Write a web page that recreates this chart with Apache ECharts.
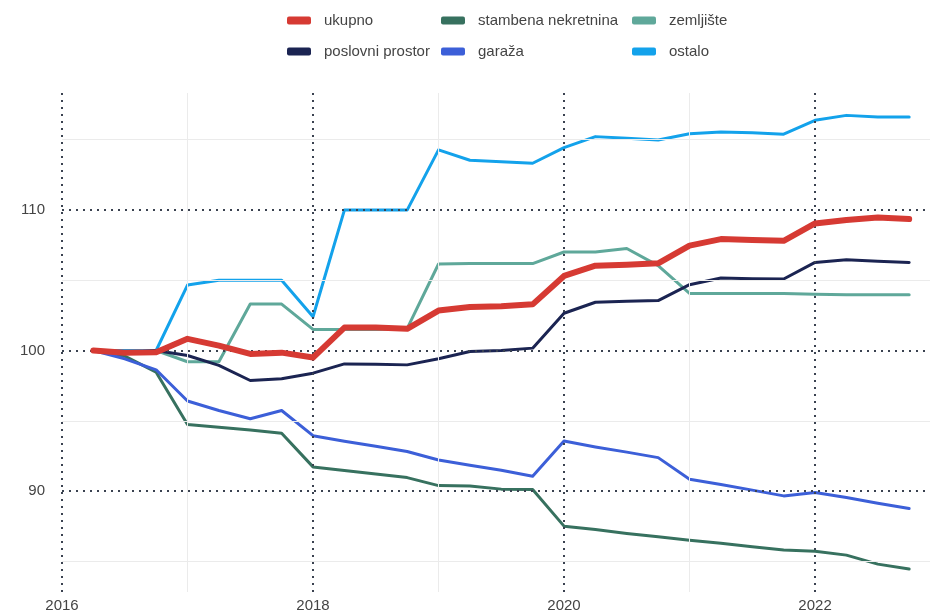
<!DOCTYPE html>
<html>
<head>
<meta charset="utf-8">
<script src="https://cdn.jsdelivr.net/npm/echarts@6/dist/echarts.min.js"></script>
<style>
  html, body { margin: 0; padding: 0; background: #ffffff; }
  #chart { width: 930px; height: 613px; }
</style>
</head>
<body>
<div id="chart"></div>
<script>
// Quarterly index values (2016 Q2 = 100)
const quarters = [
  '2016-Q2','2016-Q3','2016-Q4',
  '2017-Q1','2017-Q2','2017-Q3','2017-Q4',
  '2018-Q1','2018-Q2','2018-Q3','2018-Q4',
  '2019-Q1','2019-Q2','2019-Q3','2019-Q4',
  '2020-Q1','2020-Q2','2020-Q3','2020-Q4',
  '2021-Q1','2021-Q2','2021-Q3','2021-Q4',
  '2022-Q1','2022-Q2','2022-Q3','2022-Q4'
];

const ukupno = [100, 99.85, 99.88, 100.83, 100.35, 99.76, 99.85, 99.5, 101.63, 101.63, 101.54, 102.84, 103.1, 103.15, 103.28, 105.3,
  106.03, 106.1, 106.2, 107.45, 107.92, 107.85, 107.8, 109.03, 109.27, 109.45, 109.34];
const poslovniProstor = [100, 99.85, 100, 99.65, 98.94, 97.87, 97.99, 98.39, 99.05, 99.03, 98.98, 99.41, 99.93, 100.0, 100.17, 102.65,
  103.43, 103.5, 103.55, 104.68, 105.15, 105.1, 105.08, 106.26, 106.45, 106.35, 106.26];
const stambenaNekretnina = [100, 99.6, 98.46, 94.75, 94.55, 94.35, 94.12, 91.73, 91.48, 91.22, 90.97, 90.4, 90.38, 90.15, 90.12, 87.52,
  87.28, 87.0, 86.76, 86.52, 86.3, 86.05, 85.82, 85.74, 85.46, 84.82, 84.47];
const garaza = [100, 99.41, 98.63, 96.41, 95.74, 95.15, 95.74, 93.95, 93.55, 93.2, 92.82, 92.22, 91.84, 91.49, 91.06, 93.57,
  93.15, 92.78, 92.39, 90.85, 90.48, 90.08, 89.67, 89.91, 89.55, 89.15, 88.77];
const zemljiste = [100, 100, 100, 99.2, 99.2, 103.3, 103.3, 101.5, 101.5, 101.5, 101.55, 106.15, 106.18, 106.18, 106.18, 107.0,
  107.0, 107.25, 106.03, 104.06, 104.06, 104.06, 104.05, 103.99, 103.97, 103.97, 103.97];
const ostalo = [100, 100, 100, 104.65, 105.0, 105.0, 105.0, 102.4, 109.98, 109.98, 109.98, 114.26, 113.52, 113.42, 113.31, 114.42,
  115.2, 115.08, 114.96, 115.41, 115.53, 115.48, 115.37, 116.36, 116.71, 116.6, 116.6];

const xTickLabels = [2016, 2018, 2020, 2022];
const yTickLabels = [90, 100, 110];
const xMinorLines = [2017, 2019, 2021];
const yMinorLines = [85, 95, 105, 115];

// '2016-Q2' -> 2016.25 (start of the quarter as a decimal year)
function quarterToYear(q) {
  const [y, n] = q.split('-Q');
  return Number(y) + (Number(n) - 1) / 4;
}
const xs = quarters.map(quarterToYear);
const pairs = vals => vals.map((v, i) => [xs[i], v]);

const FONT = 'Liberation Sans, Arial, sans-serif';
const TEXT = '#444444';

const seriesDefs = [
  { name: 'stambena nekretnina', data: stambenaNekretnina, color: '#37715f', width: 3, z: 3 },
  { name: 'garaža', data: garaza, color: '#3c5fd8', width: 3, z: 3 },
  { name: 'zemljište', data: zemljiste, color: '#5fa89a', width: 3, z: 3 },
  { name: 'ostalo', data: ostalo, color: '#13a2eb', width: 3, z: 3 },
  { name: 'poslovni prostor', data: poslovniProstor, color: '#1b2452', width: 3, z: 4 },
  { name: 'ukupno', data: ukupno, color: '#d63a33', width: 6, z: 5 }
];

const dotted = { color: '#3a4250', width: 2, type: [2, 5] };
const thin = { color: '#ebebeb', width: 1, type: 'solid' };

// Gridlines: light solid minors under dotted majors
const gridSeries = {
  type: 'line',
  data: [],
  silent: true,
  z: 1,
  markLine: {
    silent: true,
    symbol: 'none',
    label: { show: false },
    animation: false,
    data: [
      ...xMinorLines.map(v => ({ xAxis: v, lineStyle: thin })),
      ...yMinorLines.map(v => ({ yAxis: v, lineStyle: thin })),
      ...xTickLabels.map(v => ({ xAxis: v, lineStyle: dotted })),
      ...yTickLabels.map(v => ({ yAxis: v, lineStyle: dotted }))
    ]
  }
};

const legendBase = {
  orient: 'vertical',
  top: 13,
  padding: 0,
  itemWidth: 24,
  itemHeight: 8,
  itemGap: 16,
  icon: 'roundRect',
  textStyle: { fontFamily: FONT, fontSize: 15, color: TEXT, padding: [0, 0, 0, 8] }
};

const chart = echarts.init(document.getElementById('chart'), null, { renderer: 'canvas' });
chart.setOption({
  animation: false,
  backgroundColor: '#ffffff',
  legend: [
    Object.assign({}, legendBase, { left: 287, data: ['ukupno', 'poslovni prostor'] }),
    Object.assign({}, legendBase, { left: 441, data: ['stambena nekretnina', 'garaža'] }),
    Object.assign({}, legendBase, { left: 632, data: ['zemljište', 'ostalo'] })
  ],
  grid: { left: 62, right: 0, top: 93, bottom: 21, containLabel: false },
  xAxis: {
    type: 'value',
    min: 2016,
    max: 2022.916,
    axisLine: { show: false },
    axisTick: { show: false },
    splitLine: { show: false },
    axisLabel: {
      customValues: xTickLabels,
      formatter: v => String(v),
      fontFamily: FONT, fontSize: 15, color: TEXT, margin: 6
    }
  },
  yAxis: {
    type: 'value',
    min: 82.84,
    max: 118.3,
    axisLine: { show: false },
    axisTick: { show: false },
    splitLine: { show: false },
    axisLabel: {
      customValues: yTickLabels,
      formatter: v => String(v),
      fontFamily: FONT, fontSize: 15, color: TEXT, margin: 17
    }
  },
  series: [gridSeries].concat(seriesDefs.map(s => ({
    name: s.name,
    type: 'line',
    data: pairs(s.data),
    showSymbol: false,
    symbol: 'none',
    z: s.z,
    color: s.color,
    lineStyle: { color: s.color, width: s.width, join: 'round', cap: 'round' },
    emphasis: { disabled: true }
  })))
});
</script>
</body>
</html>
